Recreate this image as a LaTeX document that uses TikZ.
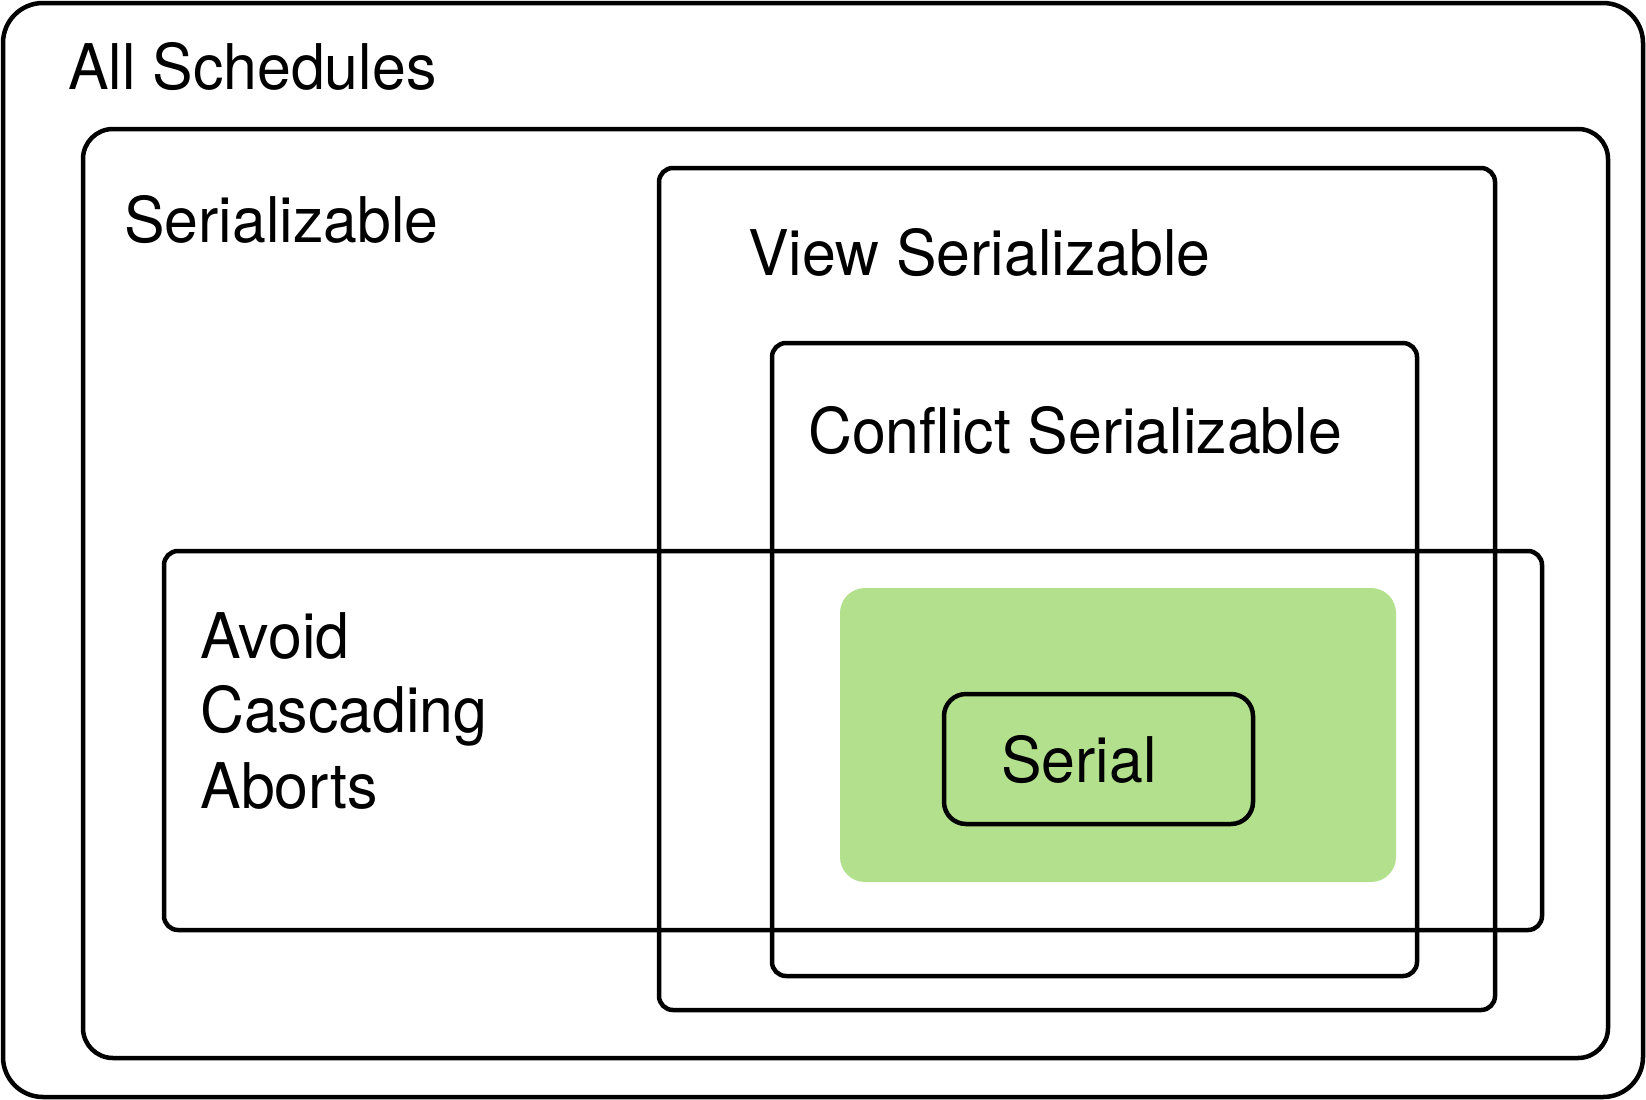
\documentclass[tikz,border=0pt]{standalone}
\usepackage{fontspec}
\setmainfont[FakeStretch=0.965]{TeX Gyre Heros}
\definecolor{serialgreen}{HTML}{B3E08C}
\begin{document}
\begin{tikzpicture}[x=1pt,y=-1pt,
  setbox/.style={draw=black,line width=4.5pt},
  lbl/.style={anchor=base west,inner sep=0pt,font=\fontsize{63}{75}\selectfont,align=left}]
\useasboundingbox (0,0) rectangle (1646,1100);
% boxes
\draw[setbox,rounded corners=40] (3,3) rectangle (1643,1097);
\draw[setbox,rounded corners=30] (83,129) rectangle (1608,1058);
\draw[setbox,rounded corners=14] (659,168) rectangle (1495,1010);
\draw[setbox,rounded corners=14] (772,343) rectangle (1417,976);
\draw[setbox,rounded corners=14] (164,551) rectangle (1542,930);
\fill[serialgreen,rounded corners=25] (840,588) rectangle (1396,882);
\draw[setbox,rounded corners=22] (944,694) rectangle (1253,824);
% labels
\node[lbl] (all) at (68,89) {All Schedules};
\node[lbl] (ser) at (124,242) {Serializable};
\node[lbl] (view) at (748,275) {View Serializable};
\node[lbl] (conf) at (808,453) {Conflict Serializable};
\node[lbl] (aca1) at (200,658) {Avoid};
\node[lbl] (aca2) at (200,732) {Cascading};
\node[lbl] (aca3) at (200,808) {Aborts};
\node[lbl] (serial) at (1001,782) {Serial};
\end{tikzpicture}
\end{document}
